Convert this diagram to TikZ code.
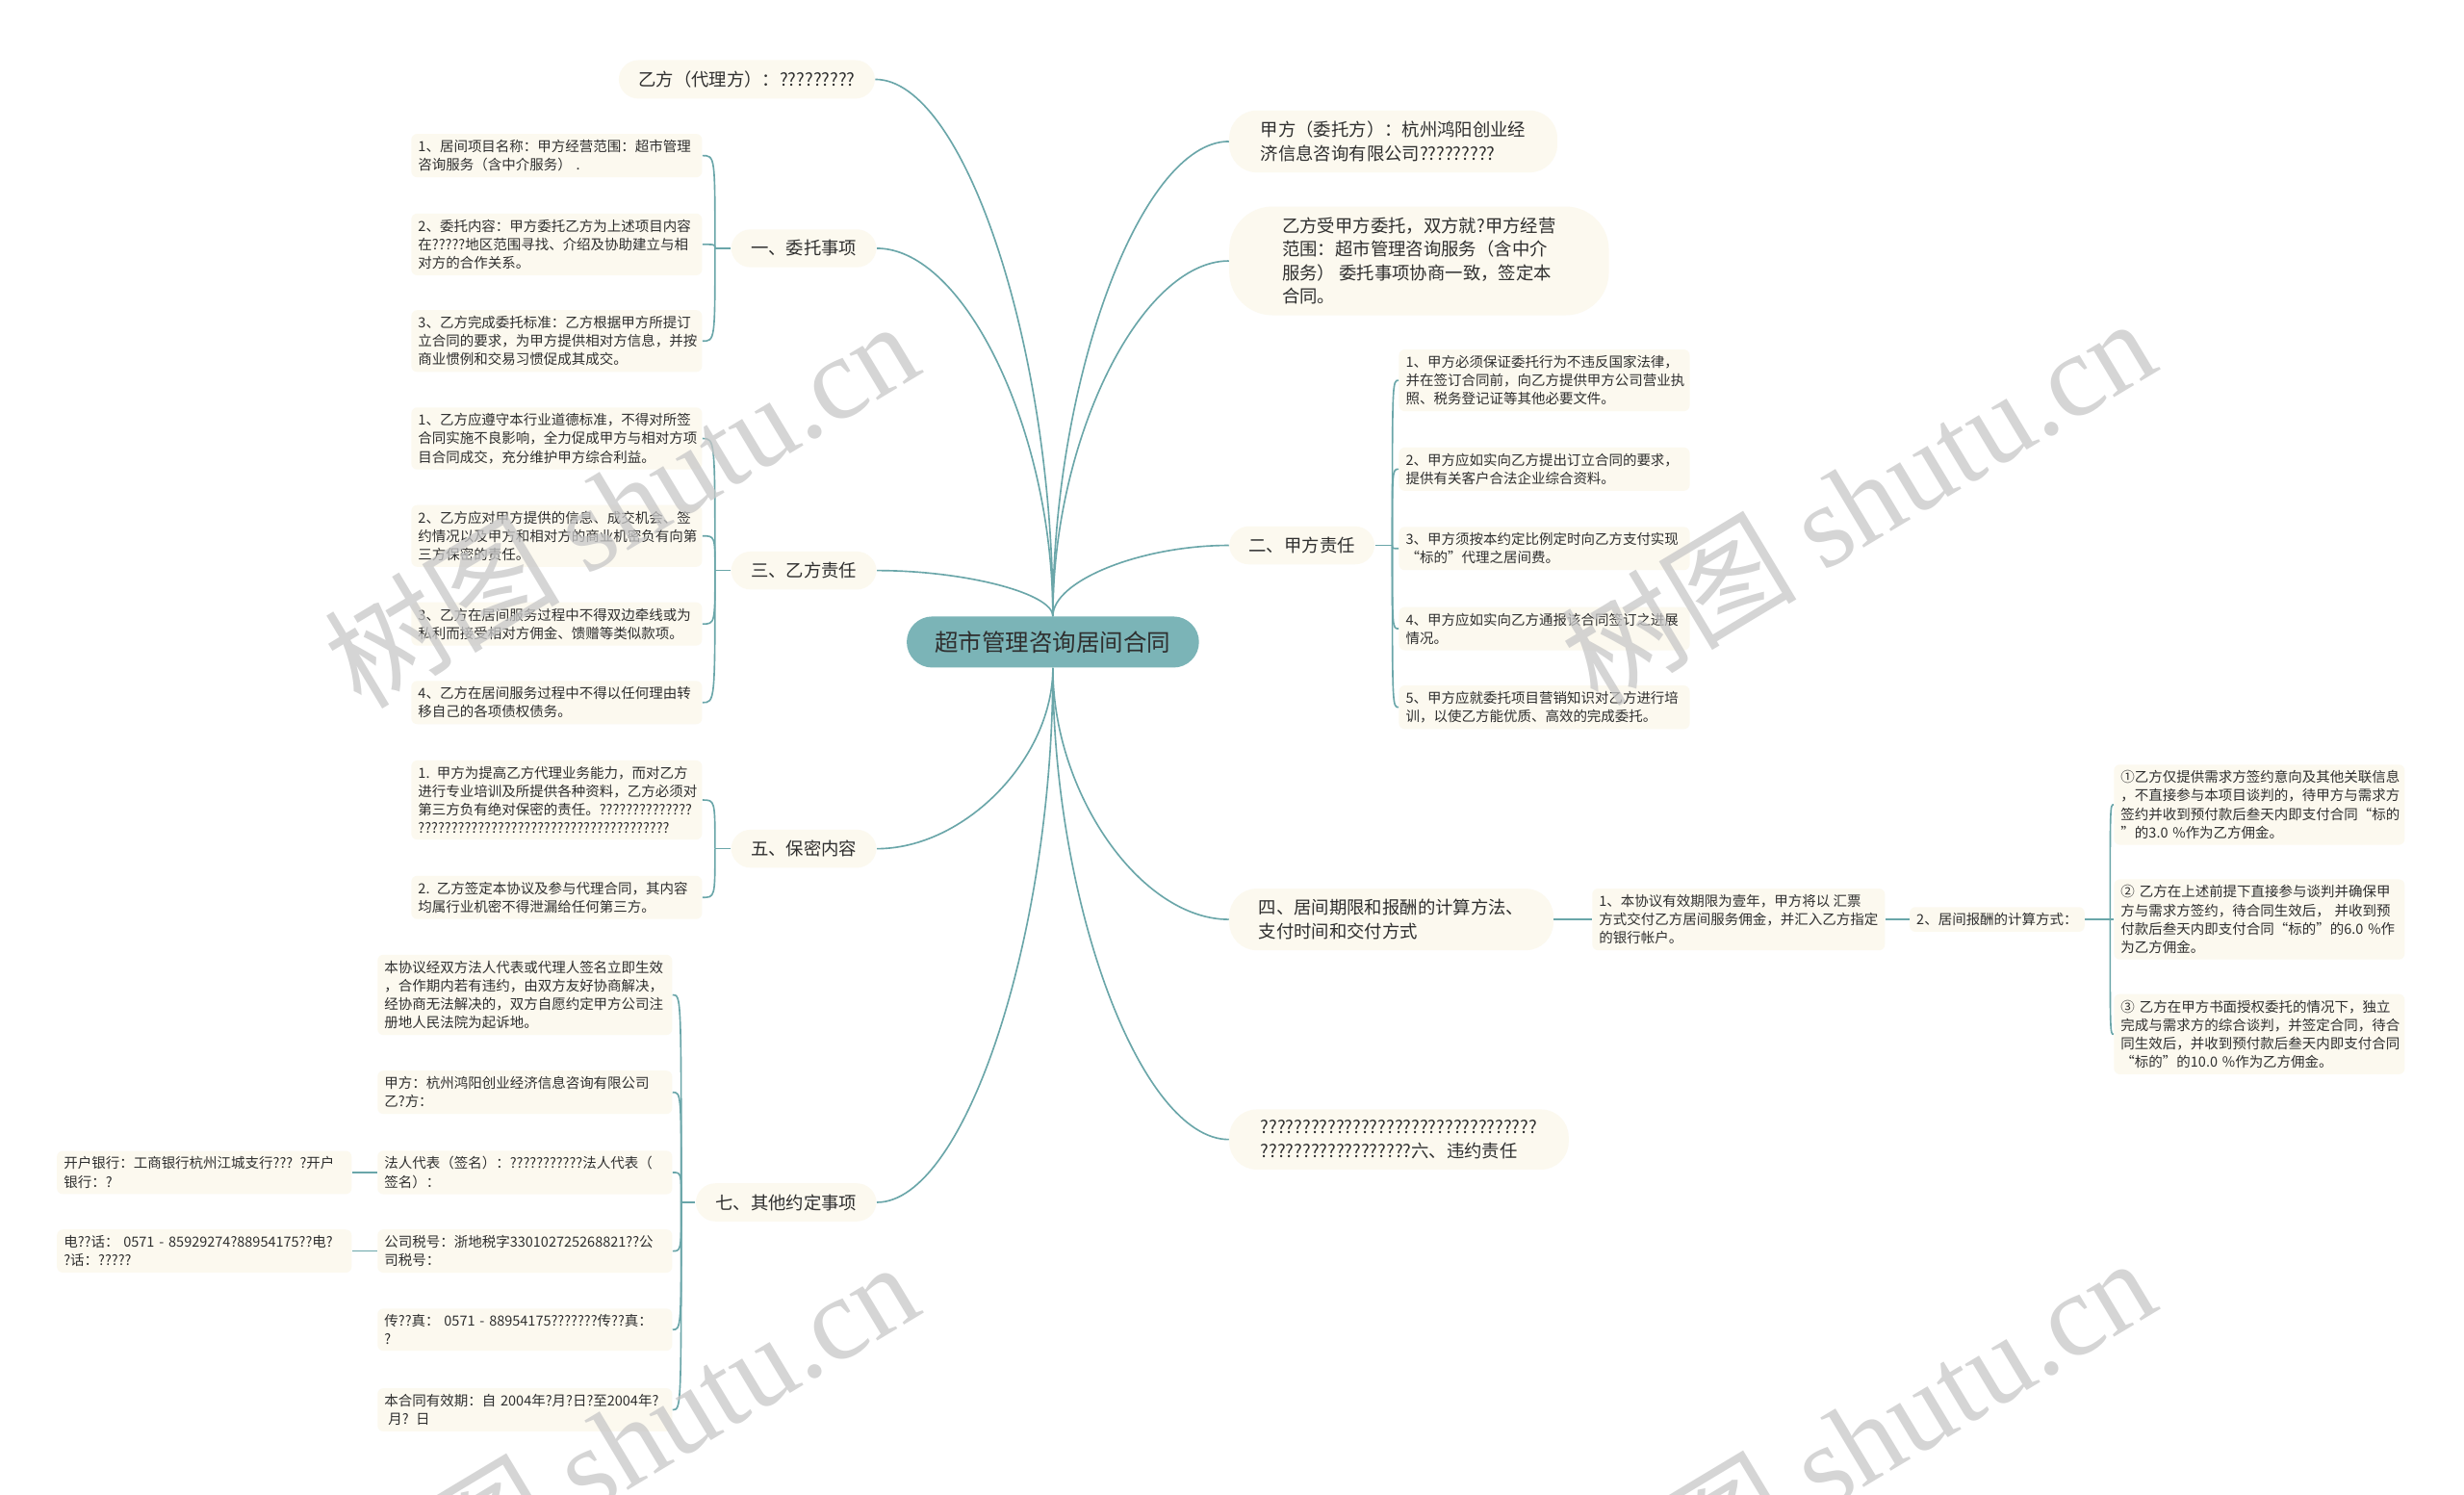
\documentclass[tikz,border=0pt]{standalone}
\usepackage{fontspec}
\setmainfont{Noto Sans CJK SC}
\newfontfamily\wmlatin{Liberation Serif}
\usetikzlibrary{calc}
\definecolor{lnc}{HTML}{6AA6A9}
\definecolor{cfill}{HTML}{7BB4B7}
\definecolor{cream}{HTML}{FCF9EF}
\definecolor{txt}{HTML}{2F2F2F}
\tikzset{
  lvone/.style={fill=cream, rounded corners=10pt, font=\fontsize{9}{12}\selectfont, text=txt, inner xsep=10pt, inner ysep=5.5pt, align=left},
  leaf/.style={fill=cream, rounded corners=3pt, font=\fontsize{7.1}{9.4}\selectfont, text=txt, inner xsep=3.5pt, inner ysep=3pt, align=left},
  wa/.style={leaf, text width=141pt},
  wd/.style={leaf, text width=143pt},
  conn/.style={draw=lnc, line width=0.8pt},
  mmcurve/.style={to path={let \p1=(\tikztostart), \p2=(\tikztotarget) in .. controls (\x1,{0.5*(\y1+\y2)}) and ({0.5*(\x1+\x2)},\y2) .. (\tikztotarget)}},
  brcurve/.style={to path={let \p1=(\tikztostart), \p2=(\tikztotarget) in .. controls (\x1,\y2) and (\x1,\y2) .. (\tikztotarget)}},
  wmark/.style={rotate=31, text=black!22, text opacity=0.75, font=\fontsize{60}{60}\selectfont, inner sep=0pt}
}
\begin{document}
\begin{tikzpicture}[x=0.8pt,y=-0.8pt]
\fill[white] (0,0) rectangle (1568,951);
\useasboundingbox (0,0) rectangle (1568,951);

% center
\node[fill=cfill, rounded corners=13pt, minimum height=26pt, inner xsep=14.4pt, inner ysep=0pt, font=\fontsize{12}{14}\selectfont, text=txt] (c) at (670,408.5) {超市管理咨询居间合同};

% level one
\node[lvone, anchor=east] (L0) at (557,50.5) {乙方（代理方）：?????????};
\node[lvone, anchor=east] (L1) at (558,158) {一、委托事项};
\node[lvone, anchor=east] (L3) at (558,363) {三、乙方责任};
\node[lvone, anchor=east] (L5) at (558,540) {五、保密内容};
\node[lvone, anchor=east] (L7) at (558,765) {七、其他约定事项};
\node[lvone, anchor=west, inner xsep=16pt, rounded corners=14pt] (R0) at (782,90) {甲方（委托方）：杭州鸿阳创业经\\济信息咨询有限公司?????????};
\node[lvone, anchor=west, inner xsep=27pt, rounded corners=22pt] (R1) at (782,166) {乙方受甲方委托，双方就?甲方经营\\范围：超市管理咨询服务（含中介\\服务） 委托事项协商一致，签定本\\合同。};
\node[lvone, anchor=west] (R2) at (782,347) {二、甲方责任};
\node[lvone, anchor=west, inner xsep=15pt, rounded corners=14pt] (R4) at (782,585) {四、居间期限和报酬的计算方法、\\支付时间和交付方式};
\node[lvone, anchor=west, inner xsep=16pt, rounded corners=14pt] (R6) at (782,725) {?????????????????????????????????\\??????????????????六、违约责任};

% leaves of 一
\node[wa, anchor=east] (a1) at (447,99) {1、居间项目名称：甲方经营范围：超市管理\\咨询服务（含中介服务） .};
\node[wa, anchor=east] (a2) at (447,155.5) {2、委托内容：甲方委托乙方为上述项目内容\\在?????地区范围寻找、介绍及协助建立与相\\对方的合作关系。};
\node[wa, anchor=east] (a3) at (447,217) {3、乙方完成委托标准：乙方根据甲方所提订\\立合同的要求，为甲方提供相对方信息，并按\\商业惯例和交易习惯促成其成交。};

% leaves of 三
\node[wa, anchor=east] (b1) at (447,279) {1、乙方应遵守本行业道德标准，不得对所签\\合同实施不良影响，全力促成甲方与相对方项\\目合同成交，充分维护甲方综合利益。};
\node[wa, anchor=east] (b2) at (447,341) {2、乙方应对甲方提供的信息、成交机会、签\\约情况以及甲方和相对方的商业机密负有向第\\三方保密的责任。};
\node[wa, anchor=east] (b3) at (447,397) {3、乙方在居间服务过程中不得双边牵线或为\\私利而接受相对方佣金、馈赠等类似款项。};
\node[wa, anchor=east] (b4) at (447,447) {4、乙方在居间服务过程中不得以任何理由转\\移自己的各项债权债务。};

% leaves of 五
\node[wa, anchor=east] (c1) at (447,509) {1. 甲方为提高乙方代理业务能力，而对乙方\\进行专业培训及所提供各种资料，乙方必须对\\第三方负有绝对保密的责任。??????????????\\??????????????????????????????????????};
\node[wa, anchor=east] (c2) at (447,571) {2. 乙方签定本协议及参与代理合同，其内容\\均属行业机密不得泄漏给任何第三方。};

% leaves of 七
\node[wd, anchor=east] (d1) at (428,633) {本协议经双方法人代表或代理人签名立即生效\\，合作期内若有违约，由双方友好协商解决，\\经协商无法解决的，双方自愿约定甲方公司注\\册地人民法院为起诉地。};
\node[wd, anchor=east] (d2) at (428,695) {甲方：杭州鸿阳创业经济信息咨询有限公司\\乙?方：};
\node[wd, anchor=east] (d3) at (428,746) {法人代表（签名）：???????????法人代表（\\签名）：};
\node[wd, anchor=east] (d4) at (428,796) {公司税号：浙地税字330102725268821??公\\司税号：};
\node[wd, anchor=east] (d5) at (428,846) {传??真： 0571 - 88954175???????传??真：\\?};
\node[wd, anchor=east] (d6) at (428,897) {本合同有效期：自 2004年?月?日?至2004年?\\\hspace*{2pt}月? 日};
\node[wd, anchor=east] (e1) at (224,746) {开户银行：工商银行杭州江城支行??? ?开户\\银行：?};
\node[wd, anchor=east] (e2) at (224,796) {电??话： 0571 - 85929274?88954175??电?\\?话：?????};

% leaves of 二
\node[wa, anchor=west] (f1) at (890,242) {1、甲方必须保证委托行为不违反国家法律，\\并在签订合同前，向乙方提供甲方公司营业执\\照、税务登记证等其他必要文件。};
\node[wa, anchor=west] (f2) at (890,298.5) {2、甲方应如实向乙方提出订立合同的要求，\\提供有关客户合法企业综合资料。};
\node[wa, anchor=west] (f3) at (890,349) {3、甲方须按本约定比例定时向乙方支付实现\\“标的”代理之居间费。};
\node[wa, anchor=west] (f4) at (890,400) {4、甲方应如实向乙方通报该合同签订之进展\\情况。};
\node[wa, anchor=west] (f5) at (890,450) {5、甲方应就委托项目营销知识对乙方进行培\\训，以使乙方能优质、高效的完成委托。};

% branch of 四
\node[leaf, anchor=west] (g1) at (1013,585) {1、本协议有效期限为壹年，甲方将以 汇票\\方式交付乙方居间服务佣金，并汇入乙方指定\\的银行帐户。};
\node[leaf, anchor=west] (g2) at (1215,585) {2、居间报酬的计算方式：};
\node[wa, anchor=west] (h1) at (1345,512) {①乙方仅提供需求方签约意向及其他关联信息\\，不直接参与本项目谈判的，待甲方与需求方\\签约并收到预付款后叁天内即支付合同“标的\\”的3.0 \%作为乙方佣金。};
\node[wa, anchor=west] (h2) at (1345,585) {② 乙方在上述前提下直接参与谈判并确保甲\\方与需求方签约，待合同生效后， 并收到预\\付款后叁天内即支付合同“标的”的6.0 \%作\\为乙方佣金。};
\node[wa, anchor=west] (h3) at (1345,658) {③ 乙方在甲方书面授权委托的情况下，独立\\完成与需求方的综合谈判，并签定合同，待合\\同生效后，并收到预付款后叁天内即支付合同\\“标的”的10.0 \%作为乙方佣金。};

% connectors from center
\draw[conn] (c.north) to[mmcurve] (L0.east);
\draw[conn] (c.north) to[mmcurve] (L1.east);
\draw[conn] (c.north) to[mmcurve] (L3.east);
\draw[conn] (c.north) to[mmcurve] (R0.west);
\draw[conn] (c.north) to[mmcurve] (R1.west);
\draw[conn] (c.north) to[mmcurve] (R2.west);
\draw[conn] (c.south) to[mmcurve] (L5.east);
\draw[conn] (c.south) to[mmcurve] (L7.east);
\draw[conn] (c.south) to[mmcurve] (R4.west);
\draw[conn] (c.south) to[mmcurve] (R6.west);

% brackets
\coordinate (j1) at ($(L1.west)+(-10,0)$);
\draw[conn] (L1.west) -- (j1);
\foreach \lf in {a1,a2,a3} \draw[conn] (j1) to[brcurve] (\lf.east);
\coordinate (j3) at ($(L3.west)+(-10,0)$);
\draw[conn] (L3.west) -- (j3);
\foreach \lf in {b1,b2,b3,b4} \draw[conn] (j3) to[brcurve] (\lf.east);
\coordinate (j5) at ($(L5.west)+(-10,0)$);
\draw[conn] (L5.west) -- (j5);
\foreach \lf in {c1,c2} \draw[conn] (j5) to[brcurve] (\lf.east);
\coordinate (j7) at ($(L7.west)+(-9,0)$);
\draw[conn] (L7.west) -- (j7);
\foreach \lf in {d1,d2,d3,d4,d5,d6} \draw[conn] (j7) to[brcurve] (\lf.east);
\draw[conn] (d3.west) -- (e1.east);
\draw[conn] (d4.west) -- (e2.east);
\coordinate (j2) at ($(R2.east)+(11,0)$);
\draw[conn] (R2.east) -- (j2);
\foreach \lf in {f1,f2,f3,f4,f5} \draw[conn] (j2) to[brcurve] (\lf.west);
\draw[conn] (R4.east) -- (g1.west);
\draw[conn] (g1.east) -- (g2.west);
\coordinate (jh) at ($(g2.east)+(16,0)$);
\draw[conn] (g2.east) -- (jh);
\foreach \lf in {h1,h2,h3} \draw[conn] (jh) to[brcurve] (\lf.west);

% watermarks
\node[wmark] (w1) at (395,320) {树图 {\wmlatin shutu.cn}};
\node[wmark] (w2) at (1182,318) {树图 {\wmlatin shutu.cn}};
\node[wmark] (w3) at (395,918) {树图 {\wmlatin shutu.cn}};
\node[wmark] (w4) at (1182,916) {树图 {\wmlatin shutu.cn}};
\end{tikzpicture}
\end{document}
